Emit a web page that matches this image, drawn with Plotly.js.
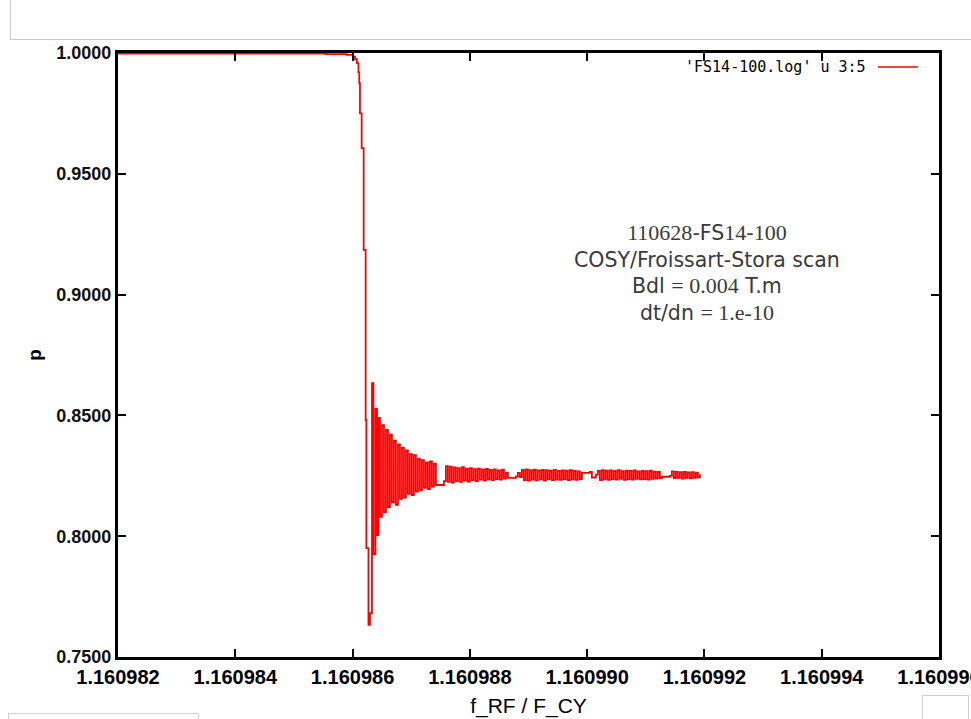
<!DOCTYPE html>
<html>
<head>
<meta charset="utf-8">
<script src="https://cdn.plot.ly/plotly-3.0.1.min.js"></script>
<style>
  html, body { margin: 0; padding: 0; background: #fff; overflow: hidden; }
  #wrap { position: relative; width: 971px; height: 719px; }
  #chart { position: absolute; left: 0; top: 0; width: 971px; height: 719px; }
  .deco { position: absolute; pointer-events: none; box-sizing: border-box; }
</style>
</head>
<body>
<div id="wrap">
  <div id="chart"></div>
  <div class="deco" style="left:10px; top:-2px; width:961px; height:42px; border-left:1px solid #c9c9c9; border-bottom:1px solid #c9c9c9;"></div>
  <div class="deco" style="left:8px; top:713px; width:191px; height:12px; border:1px solid #cfcfcf;"></div>
  <div class="deco" style="left:922px; top:695px; width:47px; height:30px; border:1px solid #cfcfcf;"></div>
</div>
<script>
// ---- data (x = f_RF / F_CY, p = polarisation) ----
const fallX = [1.160982000, 1.160985546, 1.160985905, 1.160986007, 1.160986041, 1.160986075,
  1.160986100, 1.160986114, 1.160986126, 1.160986155, 1.160986189, 1.160986223,
  1.160986235, 1.160986271, 1.160986297];
const fallP = [0.9997, 0.9995, 0.9992, 0.9985, 0.9975, 0.9958,
  0.9920, 0.9875, 0.9750, 0.9606, 0.9185, 0.8481,
  0.7951, 0.7633, 0.7682];

const ringX = [1.160986331, 1.160986356, 1.160986390, 1.160986416, 1.160986442, 1.160986467,
  1.160986501, 1.160986535, 1.160986569, 1.160986603, 1.160986637, 1.160986671,
  1.160986705, 1.160986739, 1.160986774, 1.160986808, 1.160986842, 1.160986876,
  1.160986910, 1.160986944, 1.160986978, 1.160987012, 1.160987046, 1.160987080,
  1.160987114, 1.160987149, 1.160987183, 1.160987217, 1.160987251, 1.160987285,
  1.160987319, 1.160987353, 1.160987387, 1.160987421];
const ringP = [0.8634, 0.7926, 0.8527, 0.8005, 0.8490, 0.8080,
  0.8460, 0.8100, 0.8440, 0.8120, 0.8420, 0.8140,
  0.8395, 0.8130, 0.8380, 0.8155, 0.8365, 0.8160,
  0.8355, 0.8175, 0.8340, 0.8170, 0.8335, 0.8185,
  0.8320, 0.8190, 0.8315, 0.8200, 0.8305, 0.8195,
  0.8310, 0.8205, 0.8300, 0.8212];

const plateauX = [1.160987558, 1.160987592, 1.160987626, 1.160987660, 1.160987694, 1.160987728,
  1.160987762, 1.160987796, 1.160987831, 1.160987865, 1.160987899, 1.160987933,
  1.160987967, 1.160988001, 1.160988035, 1.160988069, 1.160988103, 1.160988137,
  1.160988172, 1.160988206, 1.160988240, 1.160988274, 1.160988308, 1.160988342,
  1.160988376, 1.160988410, 1.160988444, 1.160988478, 1.160988513, 1.160988547,
  1.160988581, 1.160988615, 1.160988649, 1.160988785, 1.160988819];
const plateauP = [0.8228, 0.8290, 0.8225, 0.8288, 0.8222, 0.8285,
  0.8228, 0.8282, 0.8225, 0.8286, 0.8230, 0.8280,
  0.8226, 0.8282, 0.8232, 0.8278, 0.8228, 0.8280,
  0.8234, 0.8276, 0.8230, 0.8279, 0.8235, 0.8274,
  0.8232, 0.8277, 0.8236, 0.8272, 0.8234, 0.8275,
  0.8238, 0.8262, 0.8241, 0.8248, 0.8262];

const tailAX = [1.160988854, 1.160988888, 1.160988922, 1.160988956, 1.160988990, 1.160989024,
  1.160989058, 1.160989092, 1.160989126, 1.160989160, 1.160989195, 1.160989229,
  1.160989263, 1.160989297, 1.160989331, 1.160989365, 1.160989399, 1.160989433,
  1.160989467, 1.160989501, 1.160989536, 1.160989570, 1.160989604, 1.160989638,
  1.160989672, 1.160989706, 1.160989740, 1.160989774, 1.160989808, 1.160989842,
  1.160989877, 1.160989911, 1.160990047, 1.160990081, 1.160990149];
const tailAP = [0.8245, 0.8274, 0.8232, 0.8276, 0.8230, 0.8273,
  0.8234, 0.8275, 0.8231, 0.8272, 0.8235, 0.8274,
  0.8230, 0.8273, 0.8236, 0.8271, 0.8232, 0.8274,
  0.8234, 0.8270, 0.8233, 0.8272, 0.8236, 0.8271,
  0.8232, 0.8273, 0.8235, 0.8270, 0.8233, 0.8268,
  0.8236, 0.8262, 0.8266, 0.8243, 0.8255];

const tailBX = [1.160990183, 1.160990218, 1.160990252, 1.160990286, 1.160990320, 1.160990354,
  1.160990388, 1.160990422, 1.160990456, 1.160990490, 1.160990524, 1.160990559,
  1.160990593, 1.160990627, 1.160990661, 1.160990695, 1.160990729, 1.160990763,
  1.160990797, 1.160990831, 1.160990865, 1.160990900, 1.160990934, 1.160990968,
  1.160991002, 1.160991036, 1.160991070, 1.160991104, 1.160991138, 1.160991172,
  1.160991206, 1.160991241, 1.160991275, 1.160991411, 1.160991445, 1.160991479,
  1.160991513, 1.160991547, 1.160991582, 1.160991616, 1.160991650, 1.160991684,
  1.160991718, 1.160991752, 1.160991786, 1.160991820, 1.160991854, 1.160991888,
  1.160991923];
const tailBP = [0.8270, 0.8232, 0.8273, 0.8235, 0.8271, 0.8233,
  0.8272, 0.8236, 0.8270, 0.8234, 0.8273, 0.8237,
  0.8269, 0.8233, 0.8271, 0.8236, 0.8270, 0.8234,
  0.8272, 0.8237, 0.8268, 0.8235, 0.8270, 0.8236,
  0.8269, 0.8234, 0.8271, 0.8237, 0.8267, 0.8238,
  0.8266, 0.8240, 0.8246, 0.8250, 0.8268, 0.8240,
  0.8266, 0.8241, 0.8265, 0.8238, 0.8266, 0.8242,
  0.8264, 0.8239, 0.8265, 0.8241, 0.8263, 0.8244,
  0.8256];

const xTickVals = [1.160982, 1.160984, 1.160986, 1.160988, 1.160990, 1.160992, 1.160994, 1.160996];
const yTickVals = [0.75, 0.80, 0.85, 0.90, 0.95, 1.00];
const seriesName = "'FS14-100.log' u 3:5";
const SERIF = '<span style="font-family:Liberation Serif;font-size:22px">';
const infoLines = [
  SERIF + '110628</span>-FS' + SERIF + '14</span>-' + SERIF + '100</span>',
  'COSY/Froissart-Stora scan',
  'Bdl ' + SERIF + '= 0.004</span> T.m',
  'dt/dn ' + SERIF + '= 1.e-10</span>'
];

const xAll = fallX.concat(ringX, plateauX, tailAX, tailBX);
const pAll = fallP.concat(ringP, plateauP, tailAP, tailBP);

const trace = {
  type: 'scatter', mode: 'lines', name: seriesName,
  x: xAll, y: pAll,
  line: { color: '#ff0000', width: 1.8, shape: 'hv' },
  hoverinfo: 'x+y'
};

const layout = {
  width: 971, height: 719,
  margin: { l: 118, r: 32, t: 53, b: 62 },
  paper_bgcolor: '#ffffff', plot_bgcolor: '#ffffff',
  showlegend: false,
  xaxis: {
    range: [1.160982, 1.160996],
    tickmode: 'array', tickvals: xTickVals,
    ticktext: xTickVals.map(v => v.toFixed(6)),
    ticklabeloverflow: 'allow',
    ticks: 'inside', ticklen: 8, tickwidth: 2, tickcolor: '#000',
    showline: true, linewidth: 3, linecolor: '#000', mirror: 'ticks',
    showgrid: false, zeroline: false,
    tickfont: { family: 'Liberation Sans', size: 20, color: '#000', weight: 'bold' },
    title: { text: 'f_RF / F_CY', font: { family: 'Liberation Sans', size: 21, color: '#000' }, standoff: 12 }
  },
  yaxis: {
    range: [0.75, 1.0],
    tickmode: 'array', tickvals: yTickVals,
    ticktext: yTickVals.map(v => v.toFixed(4)),
    ticks: 'inside', ticklen: 8, tickwidth: 2, tickcolor: '#000',
    showline: true, linewidth: 3, linecolor: '#000', mirror: 'ticks',
    showgrid: false, zeroline: false,
    tickfont: { family: 'Liberation Sans', size: 18, color: '#111', weight: 'bold' },
    title: { text: 'p', font: { family: 'Liberation Sans', size: 19, color: '#000', weight: 'bold' }, standoff: 10 }
  },
  annotations: [
    {
      xref: 'paper', yref: 'paper', x: 0.9135, y: 0.9768,
      xanchor: 'right', yanchor: 'middle', showarrow: false,
      text: seriesName,
      font: { family: 'DejaVu Sans Mono', size: 15, color: '#000' }
    },
    {
      xref: 'paper', yref: 'paper', x: 0.7174, y: 0.6366,
      xanchor: 'center', yanchor: 'middle', align: 'center', showarrow: false,
      text: infoLines.join('<br>'),
      font: { family: 'DejaVu Sans', size: 20.5, color: '#3a3a3a' }
    }
  ],
  shapes: [
    {
      type: 'line', xref: 'paper', yref: 'paper',
      x0: 0.9257, x1: 0.9744, y0: 0.9768, y1: 0.9768,
      line: { color: '#ff0000', width: 1.5 }
    }
  ]
};

Plotly.newPlot('chart', [trace], layout, { displayModeBar: false, staticPlot: true });
</script>
</body>
</html>
